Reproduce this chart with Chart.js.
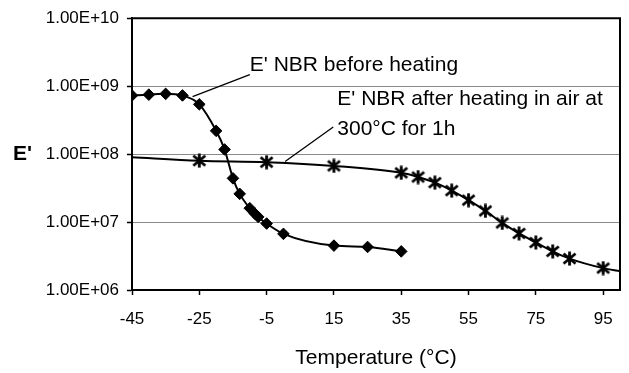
<!DOCTYPE html>
<html>
<head>
<meta charset="utf-8">
<script src="https://cdn.jsdelivr.net/npm/chart.js@4.4.1/dist/chart.umd.min.js"></script>
<style>
  html, body { margin: 0; padding: 0; background: #fff; }
  #wrap { width: 629px; height: 373px; }
</style>
</head>
<body>
<div id="wrap"><canvas id="modulusChart" width="629" height="373"></canvas></div>
<script>
// E' of NBR before heating (diamonds)
const beforeTemp = [-45, -40, -35, -30, -25, -20, -17.5, -15, -13, -10, -8.5, -7.5, -5, 0, 15, 25, 35];
const beforeE = [7.3e8, 7.5e8, 7.7e8, 7.3e8, 5.4e8, 2.2e8, 1.17e8, 4.4e7, 2.6e7, 1.6e7, 1.33e7, 1.19e7, 9.5e6, 6.7e6, 4.5e6, 4.3e6, 3.7e6];

// E' of NBR after heating in air at 300C for 1h (stars); ends carry no marker
const afterTemp = [-45, -25, -5, 15, 35, 40, 45, 50, 55, 60, 65, 70, 75, 80, 85, 95, 100];
const afterE = [9.0e7, 8.0e7, 7.6e7, 6.7e7, 5.3e7, 4.6e7, 3.8e7, 2.9e7, 2.1e7, 1.46e7, 9.7e6, 6.8e6, 5.0e6, 3.7e6, 2.9e6, 2.1e6, 1.9e6];

const xTicks = [-45, -25, -5, 15, 35, 55, 75, 95];
const yTicks = [1e6, 1e7, 1e8, 1e9, 1e10];
const yTickLabels = ['1.00E+06', '1.00E+07', '1.00E+08', '1.00E+09', '1.00E+10'];

const beforeLabel = "E' NBR before heating";
const afterLabel = ["E' NBR after heating in air at", '300°C for 1h'];

Chart.defaults.font.family = "'Liberation Sans', Arial, sans-serif";
Chart.defaults.color = '#000';

// excel style star marker: X plus a vertical bar
function makeStar() {
    const c = document.createElement('canvas');
    c.width = 15;
    c.height = 15;
    const g = c.getContext('2d');
    g.strokeStyle = '#000';
    g.lineWidth = 2.8;
    g.beginPath();
    g.moveTo(7.5, 0.5); g.lineTo(7.5, 14.5);
    g.moveTo(1.5, 2.5); g.lineTo(13.5, 12.5);
    g.moveTo(13.5, 2.5); g.lineTo(1.5, 12.5);
    g.stroke();
    return c;
}
const star = makeStar();

const afterRadius = afterTemp.map((t, i) => (i === 0 || i === afterTemp.length - 1) ? 0 : 7);

// callouts, anchored in data units
const callouts = {
    id: 'callouts',
    afterDraw(chart) {
        const { ctx, chartArea: a, scales: { x, y } } = chart;
        const px = v => x.getPixelForValue(v);
        const py = v => y.getPixelForValue(v);
        ctx.save();

        // top and right frame
        ctx.strokeStyle = '#000';
        ctx.lineWidth = 2;
        ctx.beginPath();
        ctx.moveTo(a.left, a.top);
        ctx.lineTo(a.right, a.top);
        ctx.lineTo(a.right, a.bottom);
        ctx.stroke();

        // leader lines
        ctx.lineWidth = 1.3;
        ctx.beginPath();
        ctx.moveTo(px(-27), py(7.0e8));
        ctx.lineTo(px(-10), py(1.48e9));
        ctx.moveTo(px(0.5), py(7.8e7));
        ctx.lineTo(px(14.8), py(2.5e8));
        ctx.stroke();

        ctx.fillStyle = '#000';
        ctx.textBaseline = 'middle';
        ctx.textAlign = 'left';
        ctx.font = "21px 'Liberation Sans', Arial, sans-serif";
        ctx.fillText(beforeLabel, px(-10), py(2.0e9));
        ctx.fillText(afterLabel[0], px(16), py(6.4e8));
        ctx.fillText(afterLabel[1], px(16), py(2.35e8));

        // y axis name, written flat
        ctx.font = "bold 21px 'Liberation Sans', Arial, sans-serif";
        ctx.fillText("E'", 13, py(1e8));
        ctx.restore();
    }
};

new Chart(document.getElementById('modulusChart'), {
    type: 'scatter',
    data: {
        datasets: [{
            label: beforeLabel,
            data: beforeTemp.map((t, i) => ({ x: t, y: beforeE[i] })),
            showLine: true,
            borderColor: '#000',
            borderWidth: 2,
            cubicInterpolationMode: 'monotone',
            pointStyle: 'rectRot',
            pointRadius: 5.8,
            pointBackgroundColor: '#000',
            pointBorderColor: '#000',
            pointBorderWidth: 1
        }, {
            label: afterLabel.join(' '),
            data: afterTemp.map((t, i) => ({ x: t, y: afterE[i] })),
            showLine: true,
            borderColor: '#000',
            borderWidth: 2,
            cubicInterpolationMode: 'monotone',
            pointStyle: star,
            pointRadius: afterRadius
        }]
    },
    options: {
        responsive: false,
        animation: false,
        layout: { padding: { top: 15, right: 9, bottom: 0, left: 0 } },
        plugins: {
            legend: { display: false },
            tooltip: { enabled: false }
        },
        scales: {
            x: {
                type: 'linear',
                min: -45,
                max: 100,
                afterBuildTicks: axis => { axis.ticks = xTicks.map(v => ({ value: v })); },
                afterFit: axis => { axis.height = 83; },
                ticks: {
                    padding: 14,
                    font: { size: 17 },
                    callback: v => String(v)
                },
                grid: {
                    drawOnChartArea: false,
                    drawTicks: true,
                    tickLength: 5,
                    tickColor: '#000',
                    tickWidth: 1.5
                },
                border: { color: '#000', width: 2 },
                title: {
                    display: true,
                    text: 'Temperature (°C)',
                    font: { size: 21 },
                    padding: { top: 0, bottom: 2 }
                }
            },
            y: {
                type: 'logarithmic',
                min: 1e6,
                max: 1e10,
                afterBuildTicks: axis => { axis.ticks = yTicks.map(v => ({ value: v })); },
                afterFit: axis => { axis.width = 132; },
                ticks: {
                    padding: 8,
                    font: { size: 17 },
                    callback: (v, i) => yTickLabels[i]
                },
                grid: {
                    color: '#8a8a8a',
                    lineWidth: 1,
                    tickLength: 5,
                    tickColor: '#000',
                    tickWidth: 1.5
                },
                border: { color: '#000', width: 2 }
            }
        }
    },
    plugins: [callouts]
});
</script>
</body>
</html>
